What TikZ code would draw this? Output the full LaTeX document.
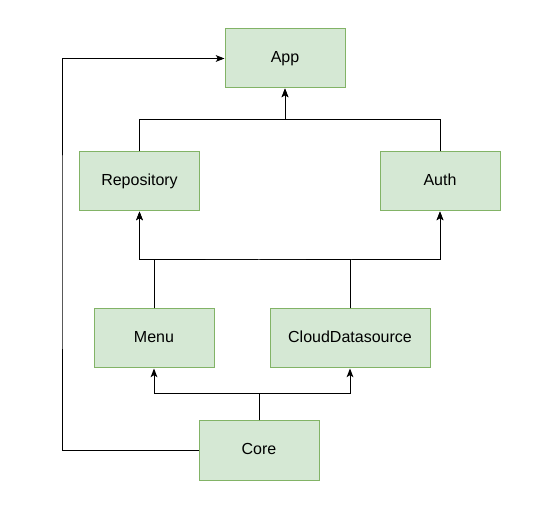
\documentclass[tikz,border=0pt]{standalone}
\usepackage{fontspec}
\setsansfont{Liberation Sans}
\usetikzlibrary{arrows.meta}
\definecolor{boxFill}{HTML}{D5E8D4}
\definecolor{boxLine}{HTML}{82B366}
\begin{document}
\begin{tikzpicture}[%%
  x=0.75pt,y=-0.75pt,%%
  boxStyle/.style={draw=boxLine,fill=boxFill,line width=0.75pt,minimum width=90pt,minimum height=44.25pt,inner sep=0pt,text height=8.6pt,text depth=2.6pt,font=\sffamily\fontsize{12}{14}\selectfont},%%
  lineStyle/.style={-,line width=0.75pt,black},%%
  arrowStyle/.style={-{Stealth[length=6.5pt,width=5pt,inset=1.5pt]},line width=0.75pt,black}
]
%%
%% The page.
\useasboundingbox (0,0) rectangle (553,530);
%%
%% The modules.
\node[boxStyle] (app) at (285,58.5) {App};
\node[boxStyle] (repo) at (139.5,181.5) {Repository};
\node[boxStyle] (auth) at (440,181.5) {Auth};
\node[boxStyle] (menu) at (154,338.5) {Menu};
\node[boxStyle,minimum width=120pt] (cloud) at (350,338.5) {CloudDatasource};
\node[boxStyle] (core) at (259,450.5) {Core};
%%
%% Where the connectors meet.
\coordinate (topBar) at (285,120);
\coordinate (midBar) at (259,260);
\coordinate (lowBar) at (259,394);
\coordinate (leftRail) at (62,250);
%%
%% The dependencies.
\foreach \src in {repo,auth}
  \draw[arrowStyle] (\src.north) |- (topBar) -| (app.south);
\foreach \src in {menu,cloud}
  \foreach \dst in {repo,auth}
    \draw[arrowStyle] (\src.north) |- (midBar) -| (\dst.south);
\foreach \dst in {menu,cloud}
  \draw[arrowStyle] (core.north) |- (lowBar) -| (\dst.south);
\draw[arrowStyle] (core.west) -| (leftRail) |- (app.west);
\end{tikzpicture}
\end{document}
